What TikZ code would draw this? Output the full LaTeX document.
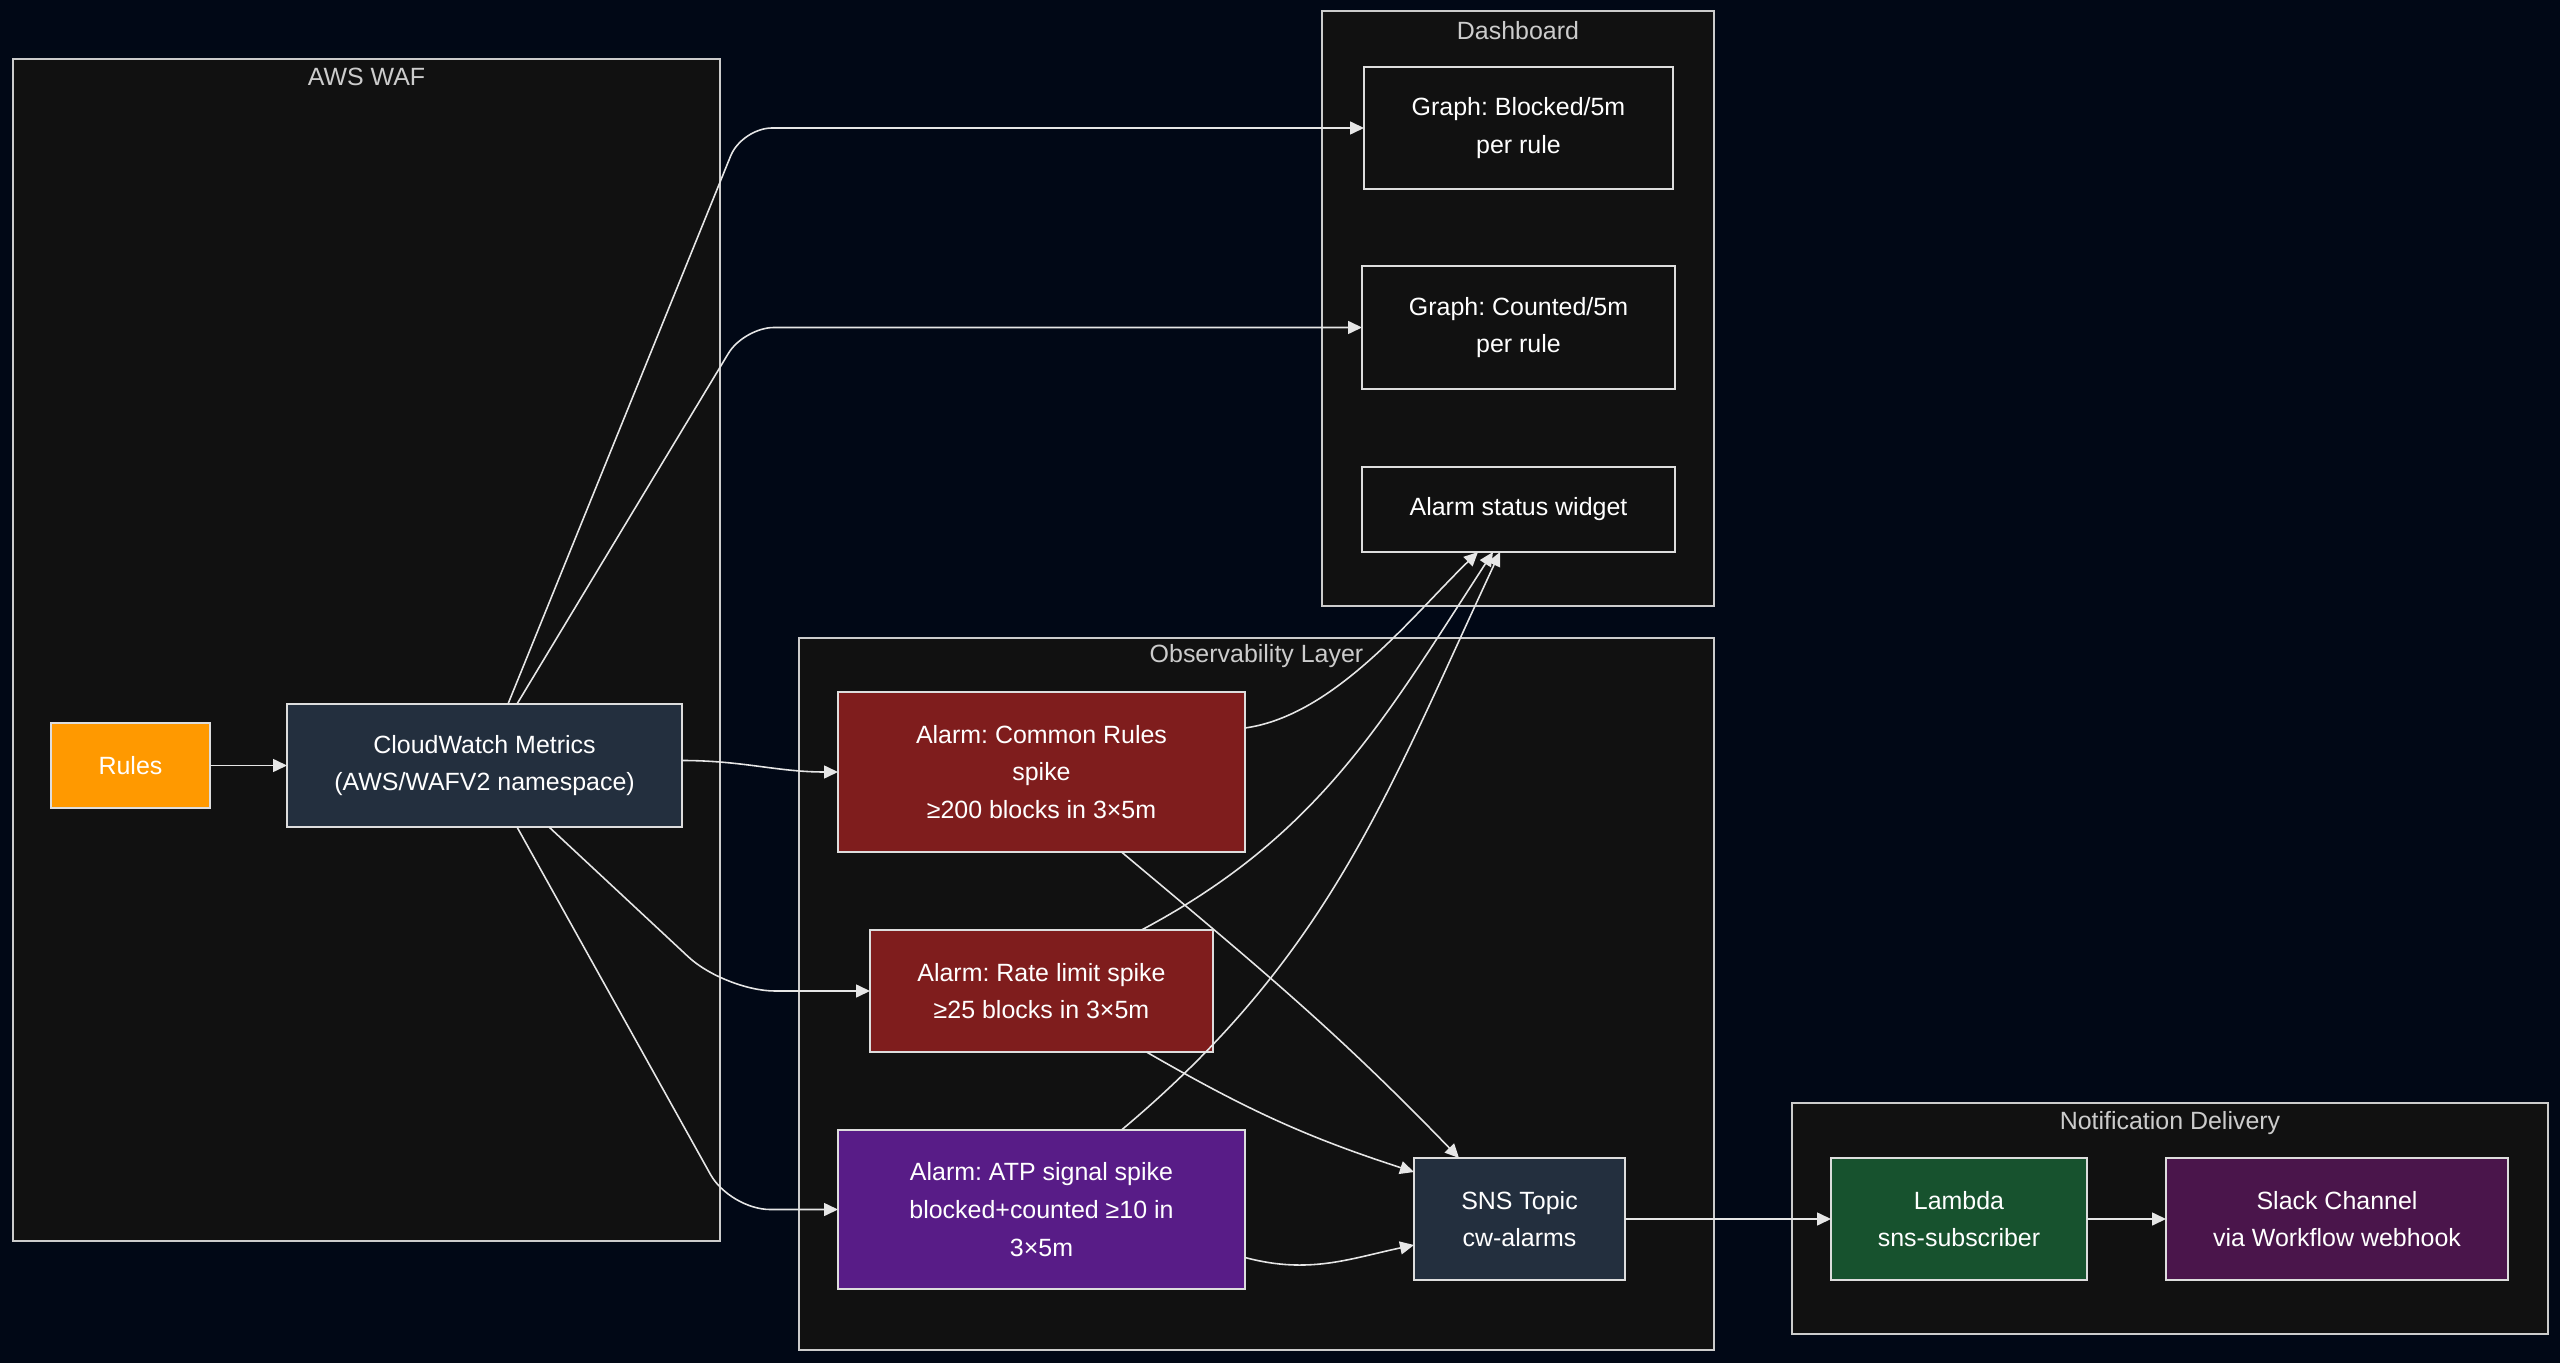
\documentclass[tikz,border=0pt]{standalone}
\usepackage{fontspec}
\setmainfont{Liberation Sans}
\usepackage{tikz}
\usetikzlibrary{arrows.meta,calc}
\frenchspacing

\definecolor{bgnavy}{HTML}{010816}
\definecolor{groupfill}{HTML}{111111}
\definecolor{groupline}{HTML}{CCCCCC}
\definecolor{nodeline}{HTML}{DDDDDD}
\definecolor{edgeline}{HTML}{E6E6E6}
\definecolor{awsorange}{HTML}{FF9900}
\definecolor{awsink}{HTML}{232F3E}
\definecolor{alarmred}{HTML}{7F1D1D}
\definecolor{alarmpurple}{HTML}{581C87}
\definecolor{lambdagreen}{HTML}{17522E}
\definecolor{slackplum}{HTML}{4A154B}

\tikzset{
    group/.style={draw=groupline, fill=groupfill, line width=0.45pt},
    grouptitle/.style={text=groupline, inner sep=0pt, font=\fontsize{7.1}{8.5}\selectfont},
    box/.style={draw=nodeline, line width=0.45pt, align=center, inner sep=0pt,
        outer sep=0pt, text=white, font=\fontsize{7.1}{10.7}\selectfont},
    edge/.style={draw=edgeline, line width=0.45pt,
        -{Triangle[length=1.4mm,width=1.3mm]}}
}

\begin{document}
\begin{tikzpicture}
    % 背景
    \fill[bgnavy] (0,0) rectangle (25.6,-13.63);
    \useasboundingbox (0,0) rectangle (25.6,-13.63);

    % 分组框
    \draw[group] (0.13,-0.59) rectangle (7.20,-12.41);
    \node[grouptitle] (waftitle) at (3.665,-0.77) {AWS WAF};
    \draw[group] (13.22,-0.11) rectangle (17.14,-6.06);
    \node[grouptitle] (dashtitle) at (15.18,-0.31) {Dashboard};
    \draw[group] (7.99,-6.38) rectangle (17.14,-13.50);
    \node[grouptitle] (obstitle) at (12.565,-6.56) {Observability Layer};
    \draw[group] (17.92,-11.03) rectangle (25.48,-13.34);
    \node[grouptitle] (notiftitle) at (21.70,-11.23) {Notification Delivery};

    % AWS WAF 内的节点
    \node[box, fill=awsorange, minimum width=1.59cm, minimum height=0.85cm] (rules) at (1.305,-7.655) {Rules};
    \node[box, fill=awsink, minimum width=3.95cm, minimum height=1.23cm] (cw) at (4.845,-7.655) {CloudWatch Metrics\\(AWS/WAFV2 namespace)};

    % 仪表盘
    \node[box, fill=groupfill, minimum width=3.09cm, minimum height=1.22cm] (gblock) at (15.185,-1.28) {Graph: Blocked/5m\\per rule};
    \node[box, fill=groupfill, minimum width=3.13cm, minimum height=1.23cm] (gcount) at (15.185,-3.275) {Graph: Counted/5m\\per rule};
    \node[box, fill=groupfill, minimum width=3.13cm, minimum height=0.85cm] (gstatus) at (15.185,-5.095) {Alarm status widget};

    % 告警
    \node[box, fill=alarmred, minimum width=4.07cm, minimum height=1.60cm] (common) at (10.415,-7.72) {Alarm: Common Rules\\spike\\≥200 blocks in 3×5m};
    \node[box, fill=alarmred, minimum width=3.43cm, minimum height=1.22cm] (rate) at (10.415,-9.91) {Alarm: Rate limit spike\\≥25 blocks in 3×5m};
    \node[box, fill=alarmpurple, minimum width=4.07cm, minimum height=1.59cm] (atp) at (10.415,-12.095) {Alarm: ATP signal spike\\blocked+counted ≥10 in\\3×5m};
    \node[box, fill=awsink, minimum width=2.11cm, minimum height=1.22cm] (sns) at (15.195,-12.19) {SNS Topic\\cw-alarms};

    % 通知
    \node[box, fill=lambdagreen, minimum width=2.56cm, minimum height=1.22cm] (lambda) at (19.59,-12.19) {Lambda\\sns-subscriber};
    \node[box, fill=slackplum, minimum width=3.42cm, minimum height=1.22cm] (slack) at (23.37,-12.19) {Slack Channel\\via Workflow webhook};

    % 连线：指标
    \draw[edge] (rules) -- (cw);
    \draw[edge, rounded corners=0.3cm] ([xshift=2.35mm]cw.north) -- (7.42,0 |- gblock.west) -- (gblock.west);
    \draw[edge, rounded corners=0.3cm] ([xshift=3.25mm]cw.north) -- (7.44,0 |- gcount.west) -- (gcount.west);
    \draw[edge] ([yshift=0.5mm]cw.east) to[out=0,in=180] (common.west);
    \draw[edge, rounded corners=0.5cm] ([xshift=6.45mm]cw.south) -- (7.25,0 |- rate.west) -- (rate.west);
    \draw[edge, rounded corners=0.4cm] ([xshift=3.25mm]cw.south) -- (7.30,0 |- atp.west) -- (atp.west);

    % 连线：告警到状态组件
    \draw[edge] ([yshift=4.4mm]common.east) to[out=8,in=224,looseness=0.8] ([xshift=-4.05mm]gstatus.south);
    \draw[edge] ([xshift=10mm]rate.north) to[out=28,in=237] ([xshift=-2.55mm]gstatus.south);
    \draw[edge] ([xshift=8mm]atp.north) to[out=40,in=245] ([xshift=-1.85mm]gstatus.south);

    % 连线：告警到 SNS
    \draw[edge] ([xshift=8mm]common.south) to[out=-40,in=134] ([xshift=-6.05mm]sns.north);
    \draw[edge] ([xshift=10.5mm]rate.south) to[out=-30,in=162] ([yshift=4.7mm]sns.west);
    \draw[edge] ([yshift=-4.8mm]atp.east) to[out=-15,in=192] ([yshift=-2.6mm]sns.west);

    % 连线：通知
    \draw[edge] (sns) -- (lambda);
    \draw[edge] (lambda) -- (slack);
\end{tikzpicture}
\end{document}
